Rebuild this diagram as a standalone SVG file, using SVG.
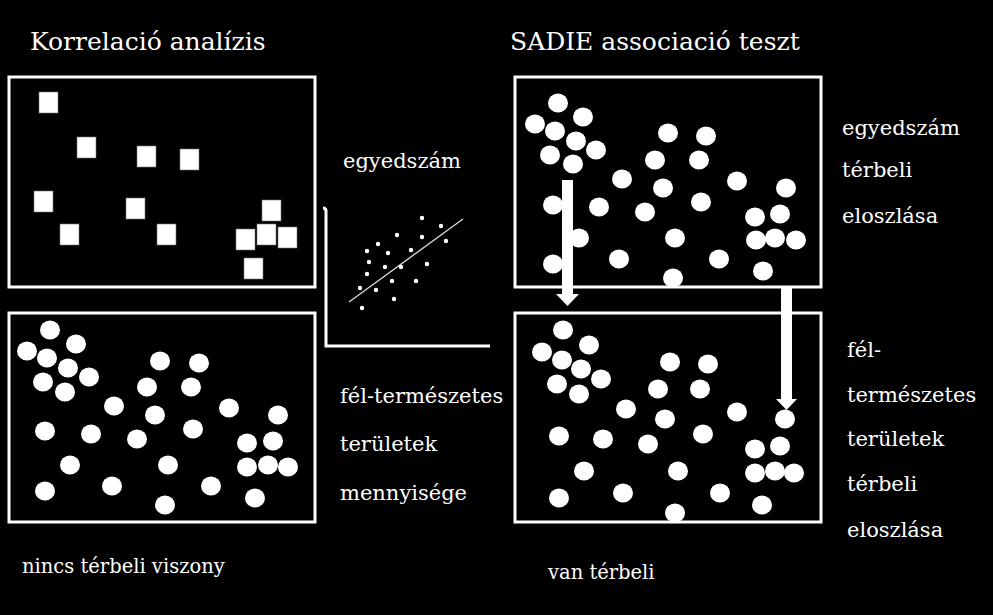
<svg xmlns="http://www.w3.org/2000/svg" width="993" height="615" viewBox="0 0 993 615">
<style>
.box{fill:none;stroke:#fff;stroke-width:3}
.sq{fill:#fff;stroke:#777;stroke-width:0.6}
.c{fill:#fff}
.t{fill:#fff;font-family:"DejaVu Serif",serif}
.h{font-size:25px}
.m{font-size:21px}
.s{font-size:19.5px}
</style>
<rect width="993" height="615" fill="#000"/>
<text class="t h" x="30" y="50">Korrelació analízis</text>
<text class="t h" x="510" y="50">SADIE associació teszt</text>
<g id="box-squares">
<rect class="box" x="9" y="77" width="306" height="210"/>
<g>
<rect class="sq" x="39" y="92" width="19" height="21"/>
<rect class="sq" x="77" y="137" width="19" height="21"/>
<rect class="sq" x="137" y="146" width="19" height="21"/>
<rect class="sq" x="180" y="149" width="19" height="21"/>
<rect class="sq" x="34" y="191" width="19" height="21"/>
<rect class="sq" x="126" y="198" width="19" height="21"/>
<rect class="sq" x="60" y="224" width="19" height="21"/>
<rect class="sq" x="157" y="224" width="19" height="21"/>
<rect class="sq" x="262" y="200" width="19" height="21"/>
<rect class="sq" x="236" y="229" width="19" height="21"/>
<rect class="sq" x="257" y="224" width="19" height="21"/>
<rect class="sq" x="278" y="227" width="19" height="21"/>
<rect class="sq" x="244" y="258" width="19" height="21"/>
</g>
</g>
<g id="box-left-circles">
<rect class="box" x="9" y="313" width="306" height="209"/>
<g class="c">
<ellipse cx="50" cy="330" rx="10" ry="9.5"/><ellipse cx="27" cy="351" rx="10" ry="9.5"/><ellipse cx="76" cy="344" rx="10" ry="9.5"/><ellipse cx="47" cy="358" rx="10" ry="9.5"/><ellipse cx="68" cy="368" rx="10" ry="9.5"/><ellipse cx="89" cy="377" rx="10" ry="9.5"/><ellipse cx="43" cy="382" rx="10" ry="9.5"/><ellipse cx="65" cy="392" rx="10" ry="9.5"/><ellipse cx="160" cy="361" rx="10" ry="9.5"/><ellipse cx="199" cy="363" rx="10" ry="9.5"/><ellipse cx="147" cy="387" rx="10" ry="9.5"/><ellipse cx="191" cy="387" rx="10" ry="9.5"/><ellipse cx="114" cy="406" rx="10" ry="9.5"/><ellipse cx="155" cy="415" rx="10" ry="9.5"/><ellipse cx="229" cy="408" rx="10" ry="9.5"/><ellipse cx="278" cy="415" rx="10" ry="9.5"/><ellipse cx="45" cy="431" rx="10" ry="9.5"/><ellipse cx="91" cy="434" rx="10" ry="9.5"/><ellipse cx="137" cy="439" rx="10" ry="9.5"/><ellipse cx="193" cy="429" rx="10" ry="9.5"/><ellipse cx="247" cy="443" rx="10" ry="9.5"/><ellipse cx="273" cy="441" rx="10" ry="9.5"/><ellipse cx="70" cy="465" rx="10" ry="9.5"/><ellipse cx="168" cy="465" rx="10" ry="9.5"/><ellipse cx="247" cy="467" rx="10" ry="9.5"/><ellipse cx="268" cy="465" rx="10" ry="9.5"/><ellipse cx="288" cy="467" rx="10" ry="9.5"/><ellipse cx="45" cy="491" rx="10" ry="9.5"/><ellipse cx="112" cy="486" rx="10" ry="9.5"/><ellipse cx="211" cy="486" rx="10" ry="9.5"/><ellipse cx="255" cy="498" rx="10" ry="9.5"/><ellipse cx="165" cy="505" rx="10" ry="9.5"/>
</g>
</g>
<g id="box-right-top">
<g class="c">
<ellipse cx="558" cy="103" rx="10" ry="9.5"/><ellipse cx="535" cy="124" rx="10" ry="9.5"/><ellipse cx="583" cy="117" rx="10" ry="9.5"/><ellipse cx="555" cy="131" rx="10" ry="9.5"/><ellipse cx="576" cy="141" rx="10" ry="9.5"/><ellipse cx="596" cy="150" rx="10" ry="9.5"/><ellipse cx="550" cy="155" rx="10" ry="9.5"/><ellipse cx="573" cy="164" rx="10" ry="9.5"/><ellipse cx="668" cy="133" rx="10" ry="9.5"/><ellipse cx="706" cy="136" rx="10" ry="9.5"/><ellipse cx="655" cy="160" rx="10" ry="9.5"/><ellipse cx="699" cy="160" rx="10" ry="9.5"/><ellipse cx="622" cy="179" rx="10" ry="9.5"/><ellipse cx="663" cy="188" rx="10" ry="9.5"/><ellipse cx="737" cy="181" rx="10" ry="9.5"/><ellipse cx="786" cy="188" rx="10" ry="9.5"/><ellipse cx="553" cy="205" rx="10" ry="9.5"/><ellipse cx="599" cy="207" rx="10" ry="9.5"/><ellipse cx="645" cy="212" rx="10" ry="9.5"/><ellipse cx="701" cy="202" rx="10" ry="9.5"/><ellipse cx="755" cy="217" rx="10" ry="9.5"/><ellipse cx="780" cy="214" rx="10" ry="9.5"/><ellipse cx="579" cy="238" rx="10" ry="9.5"/><ellipse cx="675" cy="238" rx="10" ry="9.5"/><ellipse cx="756" cy="240" rx="10" ry="9.5"/><ellipse cx="775" cy="238" rx="10" ry="9.5"/><ellipse cx="796" cy="240" rx="10" ry="9.5"/><ellipse cx="553" cy="264" rx="10" ry="9.5"/><ellipse cx="619" cy="259" rx="10" ry="9.5"/><ellipse cx="719" cy="259" rx="10" ry="9.5"/><ellipse cx="763" cy="271" rx="10" ry="9.5"/><ellipse cx="673" cy="278" rx="10" ry="9.5"/>
</g>
<rect class="box" x="515" y="77" width="306" height="210"/>
</g>
<g id="box-right-bottom">
<g class="c">
<ellipse cx="563" cy="330" rx="10" ry="9.5"/><ellipse cx="542" cy="352" rx="10" ry="9.5"/><ellipse cx="589" cy="345" rx="10" ry="9.5"/><ellipse cx="562" cy="360" rx="10" ry="9.5"/><ellipse cx="581" cy="369" rx="10" ry="9.5"/><ellipse cx="601" cy="379" rx="10" ry="9.5"/><ellipse cx="557" cy="384" rx="10" ry="9.5"/><ellipse cx="579" cy="394" rx="10" ry="9.5"/><ellipse cx="670" cy="362" rx="10" ry="9.5"/><ellipse cx="708" cy="364" rx="10" ry="9.5"/><ellipse cx="658" cy="389" rx="10" ry="9.5"/><ellipse cx="700" cy="389" rx="10" ry="9.5"/><ellipse cx="626" cy="409" rx="10" ry="9.5"/><ellipse cx="665" cy="419" rx="10" ry="9.5"/><ellipse cx="737" cy="412" rx="10" ry="9.5"/><ellipse cx="785" cy="419" rx="10" ry="9.5"/><ellipse cx="559" cy="436" rx="10" ry="9.5"/><ellipse cx="603" cy="439" rx="10" ry="9.5"/><ellipse cx="648" cy="444" rx="10" ry="9.5"/><ellipse cx="703" cy="434" rx="10" ry="9.5"/><ellipse cx="755" cy="449" rx="10" ry="9.5"/><ellipse cx="780" cy="446" rx="10" ry="9.5"/><ellipse cx="584" cy="471" rx="10" ry="9.5"/><ellipse cx="678" cy="471" rx="10" ry="9.5"/><ellipse cx="755" cy="473" rx="10" ry="9.5"/><ellipse cx="775" cy="471" rx="10" ry="9.5"/><ellipse cx="794" cy="473" rx="10" ry="9.5"/><ellipse cx="559" cy="498" rx="10" ry="9.5"/><ellipse cx="623" cy="493" rx="10" ry="9.5"/><ellipse cx="720" cy="493" rx="10" ry="9.5"/><ellipse cx="762" cy="505" rx="10" ry="9.5"/><ellipse cx="675" cy="513" rx="10" ry="9.5"/>
</g>
<rect class="box" x="515" y="313" width="306" height="209"/>
</g>
<g id="connectors" fill="#fff">
<polygon points="562,180 573,180 573,294 579,294 567.5,306 556,294 562,294"/>
<polygon points="781,287 792,287 792,399 797,399 786.5,410 776,399 781,399"/>
</g>
<g id="scatter">
<path d="M323,208 Q326,208 326,211 L326,346 L490,346" fill="none" stroke="#fff" stroke-width="3"/>
<line x1="349" y1="302" x2="463" y2="219" stroke="#ddd" stroke-width="1.3"/>
<g class="c">
<circle cx="422" cy="218" r="2.2"/><circle cx="441" cy="226" r="2.2"/><circle cx="397" cy="235" r="2.2"/><circle cx="378" cy="244" r="2.2"/><circle cx="367" cy="251" r="2.2"/><circle cx="388" cy="253" r="2.2"/><circle cx="411" cy="250" r="2.2"/><circle cx="422" cy="237" r="2.2"/><circle cx="446" cy="241" r="2.2"/><circle cx="369" cy="262" r="2.2"/><circle cx="385" cy="267" r="2.2"/><circle cx="401" cy="267" r="2.2"/><circle cx="427" cy="264" r="2.2"/><circle cx="367" cy="274" r="2.2"/><circle cx="392" cy="281" r="2.2"/><circle cx="416" cy="281" r="2.2"/><circle cx="360" cy="288" r="2.2"/><circle cx="376" cy="290" r="2.2"/><circle cx="394" cy="299" r="2.2"/><circle cx="362" cy="308" r="2.2"/>
</g>
</g>
<g class="t m">
<text x="343" y="168">egyedszám</text>
<text x="340" y="403">fél-természetes</text>
<text x="340" y="451">területek</text>
<text x="340" y="500">mennyisége</text>
<text x="842" y="135">egyedszám</text>
<text x="842" y="177">térbeli</text>
<text x="842" y="223">eloszlása</text>
<text x="847" y="357">fél-</text>
<text x="847" y="402">természetes</text>
<text x="847" y="446">területek</text>
<text x="847" y="491">térbeli</text>
<text x="847" y="537">eloszlása</text>
</g>
<text class="t s" x="22" y="573">nincs térbeli viszony</text>
<text class="t s" x="548" y="579">van térbeli</text>
</svg>
